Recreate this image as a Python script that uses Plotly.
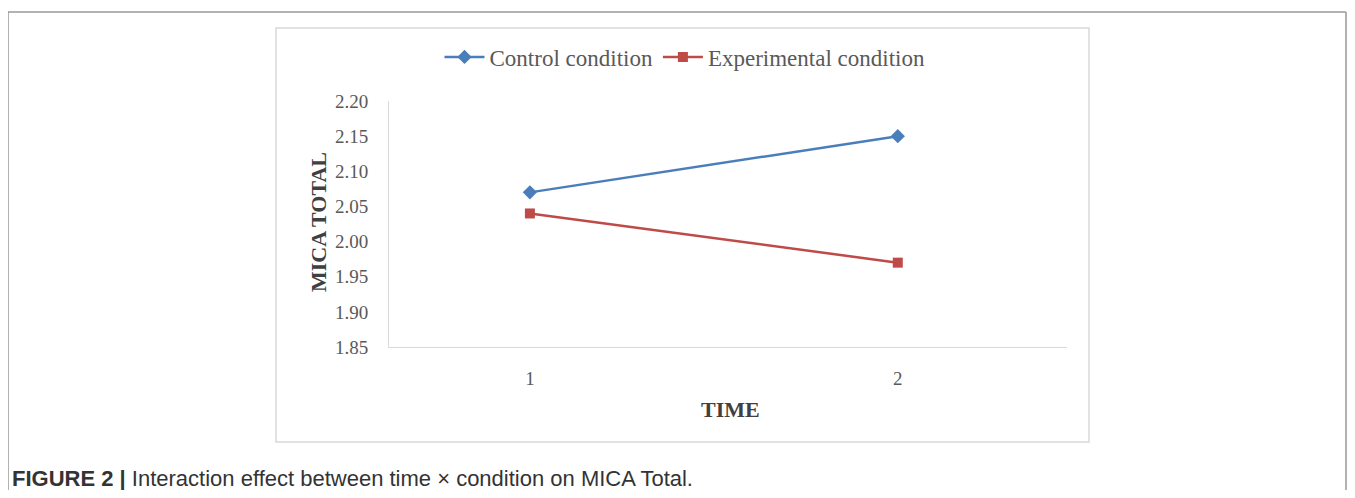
import plotly.graph_objects as go

time_points = [1, 2]
control = [2.07, 2.15]
experimental = [2.04, 1.97]
y_ticks = [1.85, 1.90, 1.95, 2.00, 2.05, 2.10, 2.15, 2.20]
y_ticklabels = ["1.85", "1.90", "1.95", "2.00", "2.05", "2.10", "2.15", "2.20"]
x_ticklabels = ["1", "2"]

OFF = 8  # default page body margin
W, H = 1355 - 2 * OFF, 498 - 2 * OFF
L, T = 389 - OFF, 101 - OFF
R = W - (1067 - OFF)
B = H - (347 - OFF)
pw, ph = W - L - R, H - T - B

def px(x):
    return (x - OFF - L) / pw

def py(y):
    return (H - B - (y - OFF)) / ph

fig = go.Figure()
fig.add_trace(go.Scatter(
    x=time_points, y=control, mode="lines+markers", name="Control condition",
    line=dict(color="#4a7ebb", width=2.5),
    marker=dict(symbol="diamond", size=11, color="#4a7ebb"),
))
fig.add_trace(go.Scatter(
    x=time_points, y=experimental, mode="lines+markers", name="Experimental condition",
    line=dict(color="#be4b48", width=2.5),
    marker=dict(symbol="square", size=10, color="#be4b48"),
))

serif = "Liberation Serif"
fig.update_layout(
    width=W, height=H,
    margin=dict(l=L, r=R, t=T, b=B),
    paper_bgcolor="white", plot_bgcolor="white",
    font=dict(family=serif, color="#595959"),
    showlegend=True,
    legend=dict(orientation="h", x=px(685), y=py(57), xanchor="center", yanchor="middle",
                font=dict(family=serif, size=23, color="#595959"),
                itemwidth=40, tracegroupgap=0, bgcolor="rgba(0,0,0,0)"),
    xaxis=dict(range=[0.617, 2.46], tickvals=time_points, ticktext=x_ticklabels,
               showgrid=False, zeroline=False, showline=True, linecolor="#d9d9d9", linewidth=1,
               ticks="", ticklabelstandoff=14,
               tickfont=dict(family=serif, size=19, color="#595959")),
    yaxis=dict(range=[1.85, 2.20], tickvals=y_ticks, ticktext=y_ticklabels,
               showgrid=False, zeroline=False, showline=True, linecolor="#d9d9d9", linewidth=1,
               ticks="", ticklabelstandoff=16,
               tickfont=dict(family=serif, size=19, color="#595959")),
    shapes=[
        dict(type="rect", xref="paper", yref="paper", x0=px(276), x1=px(1089), y0=py(442), y1=py(28),
             line=dict(color="#d9d9d9", width=1.5), layer="below"),
        dict(type="line", xref="paper", yref="paper", x0=px(8), x1=px(1346), y0=py(12), y1=py(12),
             line=dict(color="#999999", width=1.5)),
        dict(type="line", xref="paper", yref="paper", x0=px(8), x1=px(8), y0=py(12), y1=py(490),
             line=dict(color="#999999", width=1.5)),
        dict(type="line", xref="paper", yref="paper", x0=px(1346), x1=px(1346), y0=py(12), y1=py(490),
             line=dict(color="#999999", width=1.5)),
    ],
    annotations=[
        dict(text="<b>MICA TOTAL</b>", xref="paper", yref="paper", x=px(318), y=py(222),
             textangle=-90, showarrow=False, xanchor="center", yanchor="middle",
             font=dict(family=serif, size=22, color="#404040")),
        dict(text="<b>TIME</b>", xref="paper", yref="paper", x=px(730), y=py(409),
             showarrow=False, xanchor="center", yanchor="middle",
             font=dict(family=serif, size=22, color="#404040")),
        dict(text="<b>FIGURE 2 |</b> Interaction effect between time × condition on MICA Total.",
             xref="paper", yref="paper", x=px(10), y=py(478), showarrow=False,
             xanchor="left", yanchor="middle",
             font=dict(family="Liberation Sans", size=22, color="#333333")),
    ],
)

fig.write_html("out.html")
